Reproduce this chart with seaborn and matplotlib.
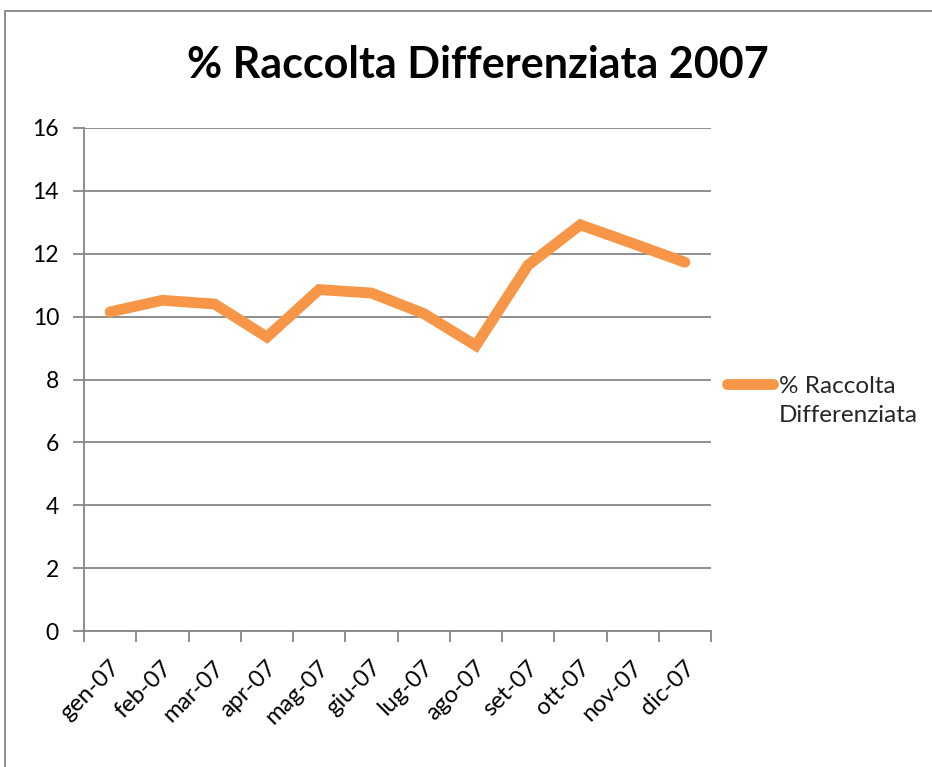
import matplotlib
matplotlib.use("Agg")
import matplotlib.pyplot as plt
from matplotlib.patches import Rectangle
from matplotlib.ticker import FixedLocator
from matplotlib.transforms import ScaledTranslation
import seaborn as sns
import pandas as pd

months = ["gen-07", "feb-07", "mar-07", "apr-07", "mag-07", "giu-07",
          "lug-07", "ago-07", "set-07", "ott-07", "nov-07", "dic-07"]
values = [10.15, 10.52, 10.40, 9.35, 10.86, 10.75,
          10.10, 9.08, 11.64, 12.92, 12.33, 11.73]
title = "% Raccolta Differenziata 2007"
legend_label = "% Raccolta\nDifferenziata"
y_ticks = [0, 2, 4, 6, 8, 10, 12, 14, 16]

sns.set_theme(style="white")
plt.rcParams["font.family"] = ["Lato", "DejaVu Sans"]

df = pd.DataFrame({"mese": months, "valore": values})

fig = plt.figure(figsize=(9.32, 7.67), dpi=100)
W, H = 932, 767
ax = fig.add_axes([84 / W, 1 - 631 / H, (711 - 84) / W, (631 - 128) / H])

grey = "#868686"
sns.lineplot(data=df, x="mese", y="valore", ax=ax, color="#F79646",
             linewidth=7.8, solid_capstyle="round", solid_joinstyle="miter",
             label=legend_label)

ax.set_xlim(-0.5, len(months) - 0.5)
ax.set_ylim(0, 16)
ax.set_yticks(y_ticks)
ax.set_yticklabels([str(t) for t in y_ticks], fontsize=16.5)
ax.yaxis.grid(True, color=grey, linewidth=1.3)
ax.set_axisbelow(True)
ax.tick_params(axis="y", length=8, width=1.3, color=grey, direction="out",
               pad=10, left=True, labelcolor="black")

# category boundaries carry the small tick marks, labels sit at the centres
ax.set_xticks(range(len(months)))
ax.xaxis.set_minor_locator(FixedLocator([i - 0.5 for i in range(len(months) + 1)]))
ax.tick_params(axis="x", which="minor", length=8, width=1.3, color=grey,
               direction="out", bottom=True)
ax.tick_params(axis="x", which="major", length=0, pad=24, labelcolor="black")
ax.set_xticklabels(months, rotation=45, ha="right", va="center",
                   rotation_mode="anchor", fontsize=17)
shift = ScaledTranslation(6 / 100, 0, fig.dpi_scale_trans)
for lbl in ax.get_xticklabels():
    lbl.set_transform(lbl.get_transform() + shift)

for side in ["top", "right"]:
    ax.spines[side].set_visible(False)
for side in ["left", "bottom"]:
    ax.spines[side].set_color(grey)
    ax.spines[side].set_linewidth(1.3)

ax.set_xlabel("")
ax.set_ylabel("")

leg = ax.legend(loc="center left", bbox_to_anchor=(717 / W, 1 - 401 / H),
                bbox_transform=fig.transFigure, frameon=False, fontsize=17.5,
                handlelength=1.9, handletextpad=0.25, borderaxespad=0)
for t in leg.get_texts():
    t.set_linespacing(1.45)
# put the legend swatch level with the first text line
handle = leg.legend_handles[0]
handle.set_ydata([y + 12 for y in handle.get_ydata()])

fig.text(478 / W, 1 - 65 / H, title, ha="center", va="center",
         fontsize=31, fontweight="bold", color="black")

fig.patches.append(Rectangle((5 / W, -0.05), 1.1, 1 - 11 / H + 0.05,
                             transform=fig.transFigure, fill=False,
                             edgecolor=grey, linewidth=1.3))

fig.savefig("out.png", dpi=100, facecolor="white")
